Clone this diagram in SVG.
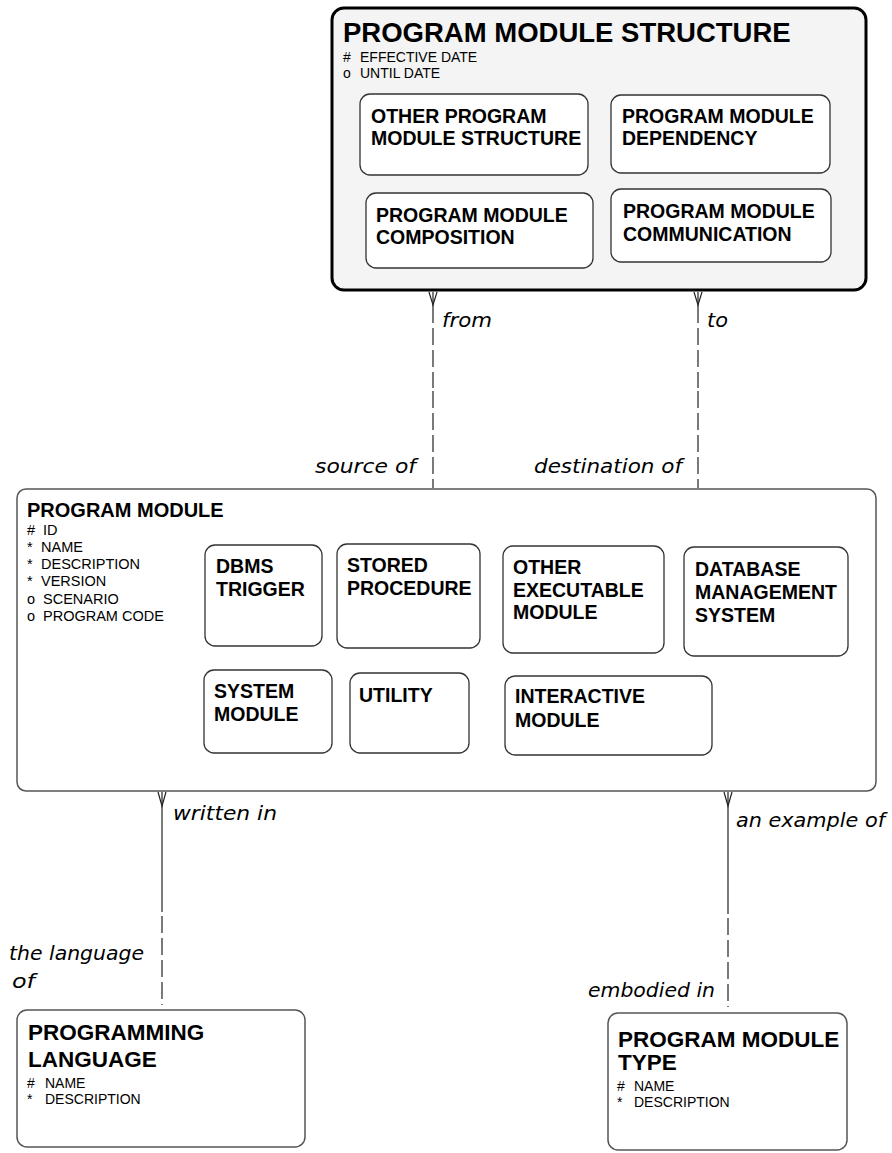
<svg xmlns="http://www.w3.org/2000/svg" width="892" height="1153" viewBox="0 0 892 1153">
<style>
.box{fill:#ffffff;stroke:#333333;stroke-width:1.3}
.outer{fill:#f4f4f4;stroke:#000000;stroke-width:3}
.ent{fill:#ffffff;stroke:#555555;stroke-width:1.5}
.t1{font-family:"Liberation Sans",Arial,sans-serif;font-weight:bold;font-size:27.5px;fill:#000}
.t2{font-family:"Liberation Sans",Arial,sans-serif;font-weight:bold;font-size:19.5px;fill:#000}
.t3{font-family:"Liberation Sans",Arial,sans-serif;font-weight:bold;font-size:22.5px;fill:#000}
.at{font-family:"Liberation Sans",Arial,sans-serif;font-size:14px;fill:#000}
.at2{font-family:"Liberation Sans",Arial,sans-serif;font-size:14.5px;fill:#000}
.lbl{font-family:"DejaVu Sans",sans-serif;font-style:italic;font-size:19px;fill:#000}
.ln{stroke:#222;stroke-width:1.2;fill:none}
.dash{stroke:#222;stroke-width:1.2;fill:none;stroke-dasharray:17 5}
</style>

<g id="program-module-structure">
<rect class="outer" x="332" y="8" width="534" height="282" rx="12"/>
<text class="t1" x="343" y="42">PROGRAM MODULE STRUCTURE</text>
<text class="at" x="343" y="62">#</text><text class="at" x="360" y="62">EFFECTIVE DATE</text>
<text class="at" x="343" y="78">o</text><text class="at" x="360" y="78">UNTIL DATE</text>
<g id="other-program-module-structure">
<rect class="box" x="360" y="94" width="228" height="81" rx="10"/>
<text class="t2" x="371" y="123">OTHER PROGRAM</text>
<text class="t2" x="371" y="145">MODULE STRUCTURE</text>
</g>
<g id="program-module-dependency">
<rect class="box" x="611" y="95" width="219" height="78" rx="10"/>
<text class="t2" x="622" y="123">PROGRAM MODULE</text>
<text class="t2" x="622" y="145">DEPENDENCY</text>
</g>
<g id="program-module-composition">
<rect class="box" x="366" y="193" width="227" height="75" rx="10"/>
<text class="t2" x="376" y="222">PROGRAM MODULE</text>
<text class="t2" x="376" y="244">COMPOSITION</text>
</g>
<g id="program-module-communication">
<rect class="box" x="611" y="189" width="220" height="73" rx="10"/>
<text class="t2" x="623" y="218">PROGRAM MODULE</text>
<text class="t2" x="623" y="241">COMMUNICATION</text>
</g>
</g>

<g id="program-module">
<rect class="ent" x="17" y="489" width="859" height="302" rx="9"/>
<text class="t2" x="27" y="517" style="font-size:20px">PROGRAM MODULE</text>
<text class="at2" x="27" y="535">#</text><text class="at2" x="43" y="535">ID</text>
<text class="at2" x="27" y="552">*</text><text class="at2" x="41" y="552">NAME</text>
<text class="at2" x="27" y="569">*</text><text class="at2" x="41" y="569">DESCRIPTION</text>
<text class="at2" x="27" y="586">*</text><text class="at2" x="41" y="586">VERSION</text>
<text class="at2" x="27" y="604">o</text><text class="at2" x="43" y="604">SCENARIO</text>
<text class="at2" x="27" y="621">o</text><text class="at2" x="43" y="621">PROGRAM CODE</text>
<g id="dbms-trigger">
<rect class="box" x="205" y="545" width="117" height="101" rx="10"/>
<text class="t2" x="216" y="573">DBMS</text>
<text class="t2" x="216" y="596">TRIGGER</text>
</g>
<g id="stored-procedure">
<rect class="box" x="337" y="544" width="143" height="104" rx="10"/>
<text class="t2" x="347" y="572">STORED</text>
<text class="t2" x="347" y="595">PROCEDURE</text>
</g>
<g id="other-executable-module">
<rect class="box" x="503" y="546" width="161" height="107" rx="10"/>
<text class="t2" x="513" y="574">OTHER</text>
<text class="t2" x="513" y="597">EXECUTABLE</text>
<text class="t2" x="513" y="619">MODULE</text>
</g>
<g id="database-management-system">
<rect class="box" x="684" y="547" width="164" height="109" rx="10"/>
<text class="t2" x="695" y="576">DATABASE</text>
<text class="t2" x="695" y="599">MANAGEMENT</text>
<text class="t2" x="695" y="622">SYSTEM</text>
</g>
<g id="system-module">
<rect class="box" x="204" y="670" width="128" height="83" rx="10"/>
<text class="t2" x="214" y="698">SYSTEM</text>
<text class="t2" x="214" y="721">MODULE</text>
</g>
<g id="utility">
<rect class="box" x="350" y="673" width="119" height="80" rx="10"/>
<text class="t2" x="359" y="702">UTILITY</text>
</g>
<g id="interactive-module">
<rect class="box" x="505" y="676" width="207" height="79" rx="10"/>
<text class="t2" x="515" y="703">INTERACTIVE</text>
<text class="t2" x="515" y="727">MODULE</text>
</g>
</g>

<g id="programming-language">
<rect class="ent" x="17" y="1010" width="288" height="137" rx="10"/>
<text class="t3" x="28" y="1040">PROGRAMMING</text>
<text class="t3" x="28" y="1067">LANGUAGE</text>
<text class="at" x="27" y="1088">#</text><text class="at" x="45" y="1088">NAME</text>
<text class="at" x="27" y="1104">*</text><text class="at" x="45" y="1104">DESCRIPTION</text>
</g>

<g id="program-module-type">
<rect class="ent" x="608" y="1013" width="239" height="137" rx="10"/>
<text class="t3" x="618" y="1047">PROGRAM MODULE</text>
<text class="t3" x="618" y="1070">TYPE</text>
<text class="at" x="617" y="1091">#</text><text class="at" x="634" y="1091">NAME</text>
<text class="at" x="617" y="1107">*</text><text class="at" x="634" y="1107">DESCRIPTION</text>
</g>

<g id="connectors">
<line class="ln" x1="433" y1="292" x2="433" y2="306"/>
<path class="ln" d="M429,292 L433,305 L437,292"/>
<line class="dash" x1="433" y1="306" x2="433" y2="388"/>
<line class="dash" x1="433" y1="391" x2="433" y2="488"/>
<line class="ln" x1="698" y1="292" x2="698" y2="306"/>
<path class="ln" d="M694,292 L698,305 L702,292"/>
<line class="dash" x1="698" y1="306" x2="698" y2="388"/>
<line class="dash" x1="698" y1="391" x2="698" y2="488"/>
<line class="ln" x1="162" y1="792" x2="162" y2="912"/>
<path class="ln" d="M158,792 L162,806 L166,792"/>
<line class="dash" x1="162" y1="916" x2="162" y2="1005"/>
<line class="ln" x1="728" y1="792" x2="728" y2="914"/>
<path class="ln" d="M724,792 L728,806 L732,792"/>
<line class="dash" x1="728" y1="918" x2="728" y2="1007"/>
<text class="lbl" x="442" y="327" textLength="50" lengthAdjust="spacingAndGlyphs">from</text>
<text class="lbl" x="707" y="327" textLength="21" lengthAdjust="spacingAndGlyphs">to</text>
<text class="lbl" x="315" y="473" textLength="101" lengthAdjust="spacingAndGlyphs">source of</text>
<text class="lbl" x="534" y="473" textLength="148" lengthAdjust="spacingAndGlyphs">destination of</text>
<text class="lbl" x="173" y="820" textLength="104" lengthAdjust="spacingAndGlyphs">written in</text>
<text class="lbl" x="9" y="960" textLength="135" lengthAdjust="spacingAndGlyphs">the language</text>
<text class="lbl" x="12" y="988" textLength="23" lengthAdjust="spacingAndGlyphs">of</text>
<text class="lbl" x="736" y="827" textLength="149" lengthAdjust="spacingAndGlyphs">an example of</text>
<text class="lbl" x="588" y="997" textLength="127" lengthAdjust="spacingAndGlyphs">embodied in</text>
</g>
</svg>
